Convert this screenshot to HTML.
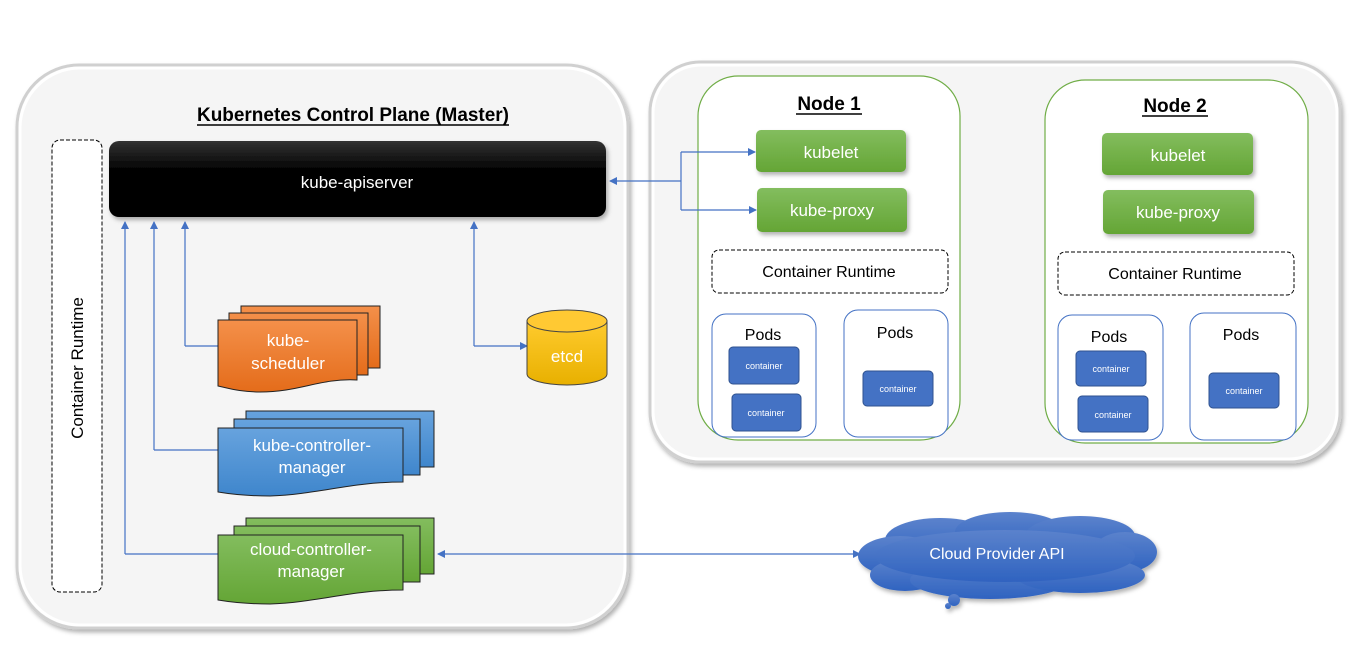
<!DOCTYPE html>
<html><head><meta charset="utf-8"><style>
html,body{margin:0;padding:0;background:#fff;width:1360px;height:667px;overflow:hidden}
svg{display:block}
text{font-family:"Liberation Sans",sans-serif}
</style></head><body>
<svg width="1360" height="667" viewBox="0 0 1360 667" xmlns="http://www.w3.org/2000/svg">
<defs>
<marker id="ar" markerWidth="8" markerHeight="8" refX="7" refY="4" orient="auto" markerUnits="userSpaceOnUse"><path d="M0,0 L8,4 L0,8 z" fill="#4472c4"/></marker>
<marker id="al" markerWidth="8" markerHeight="8" refX="1" refY="4" orient="auto" markerUnits="userSpaceOnUse"><path d="M8,0 L0,4 L8,8 z" fill="#4472c4"/></marker>
<linearGradient id="gk" x1="0" y1="0" x2="0" y2="1"><stop offset="0" stop-color="#333"/><stop offset="0.4" stop-color="#000"/><stop offset="1" stop-color="#000"/></linearGradient>
<linearGradient id="gg" x1="0" y1="0" x2="0" y2="1"><stop offset="0" stop-color="#83bd5e"/><stop offset="1" stop-color="#64a535"/></linearGradient>
<linearGradient id="go" x1="0" y1="0" x2="0" y2="1"><stop offset="0" stop-color="#f4904a"/><stop offset="1" stop-color="#e46c1a"/></linearGradient>
<linearGradient id="gb" x1="0" y1="0" x2="0" y2="1"><stop offset="0" stop-color="#67a3de"/><stop offset="1" stop-color="#3f86cc"/></linearGradient>
<linearGradient id="gy" x1="0" y1="0" x2="0" y2="1"><stop offset="0" stop-color="#ffcb2e"/><stop offset="1" stop-color="#e8b000"/></linearGradient>
<linearGradient id="gc" x1="0" y1="0" x2="0" y2="1"><stop offset="0" stop-color="#5b82cc"/><stop offset="1" stop-color="#2f63c0"/></linearGradient>
<filter id="sh" x="-10%" y="-10%" width="130%" height="130%"><feDropShadow dx="2" dy="3" stdDeviation="2" flood-color="#000" flood-opacity="0.3"/></filter>
</defs>

<rect x="17" y="65" width="611" height="563" rx="62" fill="#f5f5f5" stroke="#d0d0d0" stroke-width="3" filter="url(#sh)"/>
<rect x="20" y="68" width="605" height="557" rx="60" fill="none" stroke="#fff" stroke-width="3"/>
<rect x="650" y="62" width="690" height="400" rx="50" fill="#f5f5f5" stroke="#d0d0d0" stroke-width="3" filter="url(#sh)"/>
<rect x="653" y="65" width="684" height="394" rx="48" fill="none" stroke="#fff" stroke-width="3"/>

<text x="353" y="121" font-size="19" font-weight="bold" text-anchor="middle" textLength="312" lengthAdjust="spacingAndGlyphs">Kubernetes Control Plane (Master)</text>
<line x1="197" y1="125" x2="509" y2="125" stroke="#000" stroke-width="1.5"/>

<rect x="52" y="140" width="50" height="452" rx="8" fill="#fff" stroke="#000" stroke-dasharray="4,2"/>
<text transform="translate(83,368) rotate(-90)" font-size="17" text-anchor="middle">Container Runtime</text>

<rect x="109" y="141" width="497" height="76" rx="10" fill="url(#gk)" filter="url(#sh)"/>
<text x="357" y="188" font-size="17" fill="#fff" text-anchor="middle">kube-apiserver</text>

<rect x="698" y="76" width="262" height="364" rx="40" fill="#fff" stroke="#70ad47" stroke-width="1.2"/>
<text x="829" y="110" font-size="19" font-weight="bold" text-anchor="middle">Node 1</text>
<line x1="796" y1="114" x2="862" y2="114" stroke="#000" stroke-width="1.5"/>
<rect x="756" y="130" width="150" height="42" rx="5" fill="url(#gg)" filter="url(#sh)"/>
<text x="831" y="158" font-size="17" fill="#fff" text-anchor="middle">kubelet</text>
<rect x="757" y="188" width="150" height="44" rx="5" fill="url(#gg)" filter="url(#sh)"/>
<text x="832" y="216" font-size="17" fill="#fff" text-anchor="middle">kube-proxy</text>
<rect x="712" y="250" width="236" height="43" rx="7" fill="#fff" stroke="#000" stroke-dasharray="4,2"/>
<text x="829" y="277" font-size="16" text-anchor="middle">Container Runtime</text>
<rect x="712" y="314" width="104" height="123" rx="14" fill="#fff" stroke="#4472c4"/>
<text x="763" y="340" font-size="16" text-anchor="middle">Pods</text>
<rect x="729" y="347" width="70" height="37" rx="4" fill="#4472c4" stroke="#2f528f"/>
<text x="764" y="369" font-size="9" fill="#fff" text-anchor="middle">container</text>
<rect x="732" y="394" width="69" height="37" rx="4" fill="#4472c4" stroke="#2f528f"/>
<text x="766" y="416" font-size="9" fill="#fff" text-anchor="middle">container</text>
<rect x="844" y="310" width="104" height="127" rx="14" fill="#fff" stroke="#4472c4"/>
<text x="895" y="338" font-size="16" text-anchor="middle">Pods</text>
<rect x="863" y="371" width="70" height="35" rx="4" fill="#4472c4" stroke="#2f528f"/>
<text x="898" y="392" font-size="9" fill="#fff" text-anchor="middle">container</text>

<rect x="1045" y="80" width="263" height="363" rx="40" fill="#fff" stroke="#70ad47" stroke-width="1.2"/>
<text x="1175" y="112" font-size="19" font-weight="bold" text-anchor="middle">Node 2</text>
<line x1="1142" y1="116" x2="1208" y2="116" stroke="#000" stroke-width="1.5"/>
<rect x="1102" y="133" width="151" height="42" rx="5" fill="url(#gg)" filter="url(#sh)"/>
<text x="1178" y="161" font-size="17" fill="#fff" text-anchor="middle">kubelet</text>
<rect x="1103" y="190" width="151" height="44" rx="5" fill="url(#gg)" filter="url(#sh)"/>
<text x="1178" y="218" font-size="17" fill="#fff" text-anchor="middle">kube-proxy</text>
<rect x="1058" y="252" width="236" height="43" rx="7" fill="#fff" stroke="#000" stroke-dasharray="4,2"/>
<text x="1175" y="279" font-size="16" text-anchor="middle">Container Runtime</text>
<rect x="1058" y="315" width="105" height="125" rx="14" fill="#fff" stroke="#4472c4"/>
<text x="1109" y="342" font-size="16" text-anchor="middle">Pods</text>
<rect x="1076" y="351" width="70" height="35" rx="4" fill="#4472c4" stroke="#2f528f"/>
<text x="1111" y="372" font-size="9" fill="#fff" text-anchor="middle">container</text>
<rect x="1078" y="396" width="70" height="36" rx="4" fill="#4472c4" stroke="#2f528f"/>
<text x="1113" y="418" font-size="9" fill="#fff" text-anchor="middle">container</text>
<rect x="1190" y="313" width="106" height="127" rx="14" fill="#fff" stroke="#4472c4"/>
<text x="1241" y="340" font-size="16" text-anchor="middle">Pods</text>
<rect x="1209" y="373" width="70" height="35" rx="4" fill="#4472c4" stroke="#2f528f"/>
<text x="1244" y="394" font-size="9" fill="#fff" text-anchor="middle">container</text>

<g stroke="#4472c4" stroke-width="1.2" fill="none">
<path d="M185,346 V222" marker-end="url(#ar)"/><path d="M185,346 H218"/>
<path d="M154,450 V222" marker-end="url(#ar)"/><path d="M154,450 H218"/>
<path d="M125,554 V222" marker-end="url(#ar)"/><path d="M125,554 H218"/>
<path d="M474,346 V222" marker-end="url(#ar)"/><path d="M474,346 H527" marker-end="url(#ar)"/>
<path d="M438,554 H860" marker-start="url(#al)" marker-end="url(#ar)"/>
<path d="M681,181 H610" marker-end="url(#ar)"/>
<path d="M681,152 V210"/>
<path d="M681,152 H755" marker-end="url(#ar)"/>
<path d="M681,210 H756" marker-end="url(#ar)"/>
</g>

<g stroke="#222" stroke-width="1">
<rect x="241" y="306" width="139" height="62" fill="url(#go)"/>
<rect x="229" y="313" width="139" height="62" fill="url(#go)"/>
<path d="M218,320 H357 V380 C320,378 300,392 260,392 C240,392 228,388 218,386 Z" fill="url(#go)"/>
</g>
<text x="288" y="346" font-size="17" fill="#fff" text-anchor="middle">kube-</text>
<text x="288" y="369" font-size="17" fill="#fff" text-anchor="middle">scheduler</text>

<g stroke="#222" stroke-width="1">
<rect x="246" y="411" width="188" height="56" fill="url(#gb)"/>
<rect x="234" y="419" width="186" height="56" fill="url(#gb)"/>
<path d="M218,428 H403 V482 C350,482 320,494 270,496 C245,496 230,494 218,492 Z" fill="url(#gb)"/>
</g>
<text x="312" y="451" font-size="17" fill="#fff" text-anchor="middle">kube-controller-</text>
<text x="312" y="473" font-size="17" fill="#fff" text-anchor="middle">manager</text>

<g stroke="#222" stroke-width="1">
<rect x="246" y="518" width="188" height="56" fill="url(#gg)"/>
<rect x="234" y="526" width="186" height="56" fill="url(#gg)"/>
<path d="M218,535 H403 V590 C350,590 320,602 270,604 C245,604 230,602 218,600 Z" fill="url(#gg)"/>
</g>
<text x="311" y="555" font-size="17" fill="#fff" text-anchor="middle">cloud-controller-</text>
<text x="311" y="577" font-size="17" fill="#fff" text-anchor="middle">manager</text>

<path d="M527,321 V374 A40,11 0 0 0 607,374 V321" fill="url(#gy)" stroke="#444"/>
<ellipse cx="567" cy="321" rx="40" ry="11" fill="#ffc933" stroke="#444"/>
<text x="567" y="362" font-size="17" fill="#fff" text-anchor="middle">etcd</text>

<g fill="url(#gc)" filter="url(#sh)">
<ellipse cx="940" cy="540" rx="55" ry="22"/>
<ellipse cx="1010" cy="532" rx="55" ry="20"/>
<ellipse cx="1080" cy="536" rx="55" ry="20"/>
<ellipse cx="1125" cy="552" rx="32" ry="20"/>
<ellipse cx="900" cy="556" rx="42" ry="20"/>
<ellipse cx="905" cy="575" rx="35" ry="16"/>
<ellipse cx="990" cy="580" rx="80" ry="19"/>
<ellipse cx="1080" cy="575" rx="65" ry="18"/>
<ellipse cx="1005" cy="556" rx="130" ry="26"/>
<circle cx="954" cy="600" r="6"/>
<circle cx="948" cy="606" r="3"/>
</g>
<text x="997" y="559" font-size="16" fill="#fff" text-anchor="middle">Cloud Provider API</text>
</svg>
</body></html>
